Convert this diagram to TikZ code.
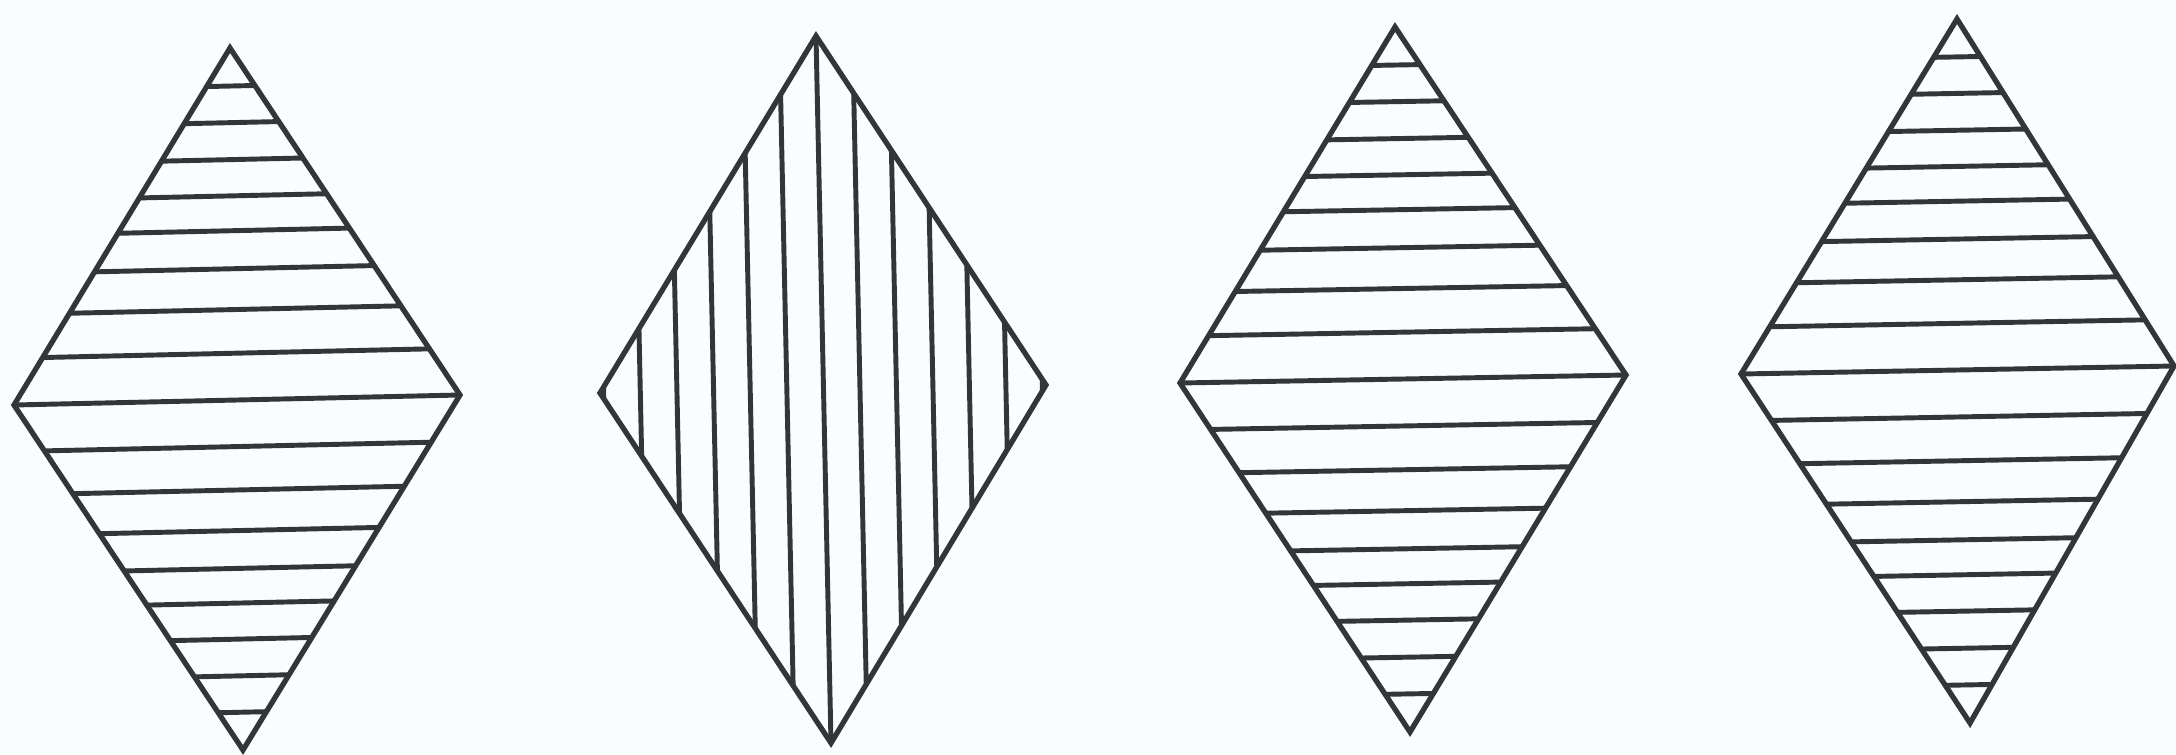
\documentclass[tikz,border=0pt]{standalone}
\usepackage{tikz}
\usetikzlibrary{calc}
\definecolor{inkgray}{RGB}{50,54,56}
\definecolor{paper}{RGB}{250,252,253}

% spacing of the cross lines, as fractions of the half height
\newcommand{\crossfracs}{0.133,0.257,0.373,0.481,0.580,0.683,0.788,0.892}

\begin{document}
\begin{tikzpicture}[x=0.01cm, y=-0.01cm,
    outline/.style={inkgray, line width=1.5pt, line join=miter},
    hatch/.style={inkgray, line width=1.4pt}]
    % paper
    \fill[paper] (0,0) rectangle (2176,754);
    \useasboundingbox (0,0) rectangle (2176,754);

    % corners of the four rhombi: top, left, right, bottom
    \coordinate (t1) at (230,48);   \coordinate (l1) at (14,405);
    \coordinate (r1) at (460,395);  \coordinate (b1) at (243,750);
    \coordinate (t2) at (816,36);   \coordinate (l2) at (600,393);
    \coordinate (r2) at (1046,385); \coordinate (b2) at (831,743);
    \coordinate (t3) at (1395,27);  \coordinate (l3) at (1180,383);
    \coordinate (r3) at (1626,375); \coordinate (b3) at (1410,732);
    \coordinate (t4) at (1957,19);  \coordinate (l4) at (1741,374);
    \coordinate (r4) at (2174,366); \coordinate (b4) at (1970,723);

    % horizontal hatching (rhombi 1, 3, 4)
    \foreach \n in {1,3,4}{
      \draw[hatch] (l\n) -- (r\n);
      \foreach \f in \crossfracs{
        \draw[hatch] ($(l\n)!\f!(t\n)$) -- ($(r\n)!\f!(t\n)$);
        \draw[hatch] ($(l\n)!\f!(b\n)$) -- ($(r\n)!\f!(b\n)$);
      }
    }

    % vertical hatching (rhombus 2)
    \draw[hatch] (t2) -- (b2);
    \foreach \k in {1,...,6}{
      \pgfmathsetmacro{\f}{\k/6.1}
      \draw[hatch] ($(t2)!\f!(l2)$) -- ($(b2)!\f!(l2)$);
      \draw[hatch] ($(t2)!\f!(r2)$) -- ($(b2)!\f!(r2)$);
    }

    % outlines
    \foreach \n in {1,...,4}
      \draw[outline] (t\n) -- (r\n) -- (b\n) -- (l\n) -- cycle;
\end{tikzpicture}
\end{document}
